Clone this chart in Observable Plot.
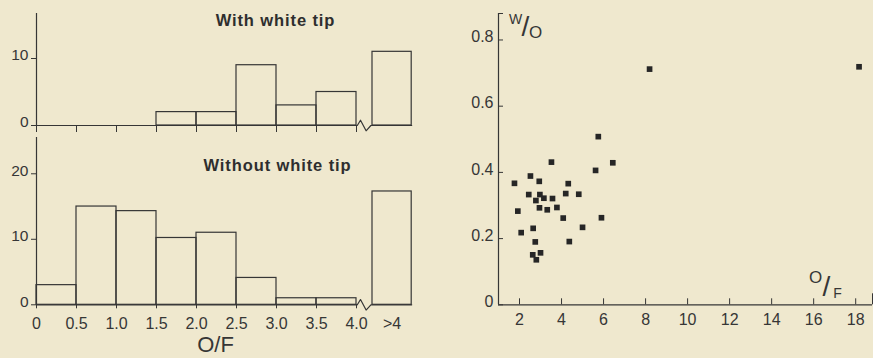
<!DOCTYPE html>
<html><head><meta charset="utf-8">
<script src="https://cdn.jsdelivr.net/npm/d3@7"></script>
<script src="https://cdn.jsdelivr.net/npm/@observablehq/plot@0.6"></script>
<style>
html,body{margin:0;padding:0;background:#efe8ce;}
#chart{position:relative;width:873px;height:358px;overflow:hidden;background:#efe8ce;}
#chart svg{position:absolute;left:0;top:0;}
</style></head><body><div id="chart"></div>
<script>
// ---- data ----
const binLow  = [0, 0.5, 1.0, 1.5, 2.0, 2.5, 3.0, 3.5, 4.0];
const binHigh = [0.5, 1.0, 1.5, 2.0, 2.5, 3.0, 3.5, 4.0, Infinity];
const withTip    = [0, 0, 0, 2, 2, 9, 3, 5, 11];
const withoutTip = [3, 15, 14.3, 10.2, 11, 4.1, 1, 1, 17.3];
const histTicks = [0, 0.5, 1.0, 1.5, 2.0, 2.5, 3.0, 3.5, 4.0];
const histTickLabels = ["0", "0.5", "1.0", "1.5", "2.0", "2.5", "3.0", "3.5", "4.0"];
const overflowLabel = ">4";
const withTipYTicks = [0, 10];
const withoutTipYTicks = [0, 10, 20];
const titleWith = "With white tip";
const titleWithout = "Without white tip";
const histXLabel = "O/F";

const scatterOF = [8.19, 18.16, 5.75, 3.52, 6.44, 5.62, 1.76, 2.52, 2.94, 4.32, 2.44, 2.97, 4.20, 4.82, 2.78, 3.16,
                   3.57, 2.95, 3.32, 3.78, 1.92, 4.08, 5.90, 5.00, 2.65, 2.08, 2.75, 4.37, 2.63, 3.00, 2.80];
const scatterWO = [0.712, 0.719, 0.508, 0.431, 0.429, 0.406, 0.367, 0.389, 0.373, 0.366, 0.333, 0.333, 0.336, 0.334, 0.315, 0.322,
                   0.321, 0.293, 0.287, 0.294, 0.283, 0.262, 0.263, 0.234, 0.231, 0.218, 0.190, 0.191, 0.151, 0.157, 0.136];
const scatterXTicks = [2, 4, 6, 8, 10, 12, 14, 16, 18];
const scatterYTicks = [0, 0.2, 0.4, 0.6, 0.8];
const scatterYTickLabels = ["0", "0.2", "0.4", "0.6", "0.8"];

// ---- layout / style ----
const W = 873, H = 358;
const INK = "#363636";
const FONT = "'Liberation Sans', Arial, Helvetica, sans-serif";
const OVER_X1 = 4.2, OVER_X2 = 4.69;   // display slot of the ">4" bin after the axis break
const xPos1 = binLow.map(v => v >= 4 ? OVER_X1 : v);
const xPos2 = binHigh.map(v => v === Infinity ? OVER_X2 : v);
const baseStyle = {background: "transparent", color: INK, fontFamily: FONT, overflow: "visible", maxWidth: "none"};

function breakLine(amp) {
  return [[0, 0], [4.01, 0], [4.05, amp], [4.12, -amp], [4.18, 0], [OVER_X2, 0]];
}

function histogram({values, yTicks, yMax, top, bottom, title, titleDx, titleDy, labels}) {
  const idx = values.map((v, i) => i).filter(i => values[i] > 0);
  const unit = (bottom - top) / yMax;
  const marks = [
    Plot.ruleX([0], {stroke: INK, strokeWidth: 1.2}),
    Plot.line(breakLine(0.8 * 6.6 / unit), {x: d => d[0], y: d => d[1], stroke: INK, strokeWidth: 1.2, curve: "linear"}),
    Plot.rectY(idx, {x1: i => xPos1[i], x2: i => xPos2[i], y1: 0, y2: i => values[i], fill: "none", stroke: INK, strokeWidth: 1.2}),
    Plot.axisY({ticks: yTicks, tickSize: 5, fill: "none", strokeWidth: 1, label: null}),
    Plot.axisY({ticks: yTicks, tickSize: 0, tickPadding: 8, dy: -3, fontSize: 15.5, label: null}),
    Plot.text([title], {frameAnchor: "top-left", dx: titleDx, dy: titleDy, textAnchor: "middle", lineAnchor: "middle",
      fontSize: 16.5, fontWeight: "bold", fill: "#2e2e2e"})
  ];
  if (labels) {
    marks.push(
      Plot.axisX({ticks: histTicks, tickSize: 4, fill: "none", strokeWidth: 1, label: null}),
      Plot.axisX({ticks: histTicks, tickSize: 0, tickPadding: 13, fontSize: 16, label: null,
        tickFormat: d => histTickLabels[histTicks.indexOf(d)]}),
      Plot.text([overflowLabel], {x: () => (OVER_X1 + OVER_X2) / 2, frameAnchor: "bottom", lineAnchor: "top", dy: 13, fontSize: 16}),
      Plot.text([histXLabel], {frameAnchor: "bottom-left", dx: 179, dy: 40, textAnchor: "middle", lineAnchor: "middle", fontSize: 22})
    );
  } else {
    marks.push(Plot.axisX({ticks: histTicks, tickSize: 7, fill: "none", strokeWidth: 1, label: null}));
  }
  return Plot.plot({
    width: W, height: H,
    marginLeft: 36, marginRight: W - 436, marginTop: top, marginBottom: H - bottom,
    x: {domain: [0, 5], label: null},
    y: {domain: [0, yMax], label: null},
    style: baseStyle,
    marks
  });
}

const topHist = histogram({values: withTip, yTicks: withTipYTicks, yMax: 16.72, top: 13, bottom: 125,
  title: titleWith, titleDx: 239, titleDy: 7, labels: false});
const botHist = histogram({values: withoutTip, yTicks: withoutTipYTicks, yMax: 25.54, top: 137, bottom: 304.3,
  title: titleWithout, titleDx: 241, titleDy: 28, labels: true});

const pts = scatterOF.map((x, i) => ({x, y: scatterWO[i]}));
const scatter = Plot.plot({
  width: W, height: H,
  marginLeft: 498, marginRight: 1, marginTop: 13, marginBottom: H - 304.3,
  x: {domain: [1, 18.8], label: null},
  y: {domain: [0, 0.88], label: null},
  style: baseStyle,
  marks: [
    Plot.ruleX([1], {stroke: INK, strokeWidth: 1.2}),
    Plot.ruleY([0], {stroke: INK, strokeWidth: 1.2}),
    Plot.axisY({ticks: [...scatterYTicks, 0.88], tickSize: -5, fill: "none", strokeWidth: 1, label: null}),
    Plot.axisY({ticks: scatterYTicks, tickSize: 0, tickPadding: 5, dy: -3, fontSize: 16, label: null,
      tickFormat: d => scatterYTickLabels[scatterYTicks.indexOf(d)]}),
    Plot.axisX({ticks: scatterXTicks, tickSize: -6, fill: "none", strokeWidth: 1, label: null}),
    Plot.axisX({ticks: [18.8], tickSize: -11, fill: "none", strokeWidth: 1, label: null}),
    Plot.axisX({ticks: scatterXTicks, tickSize: 0, tickPadding: 9, fontSize: 16, label: null}),
    Plot.dot(pts, {x: "x", y: "y", symbol: "square", r: 3.2, fill: "#262626", stroke: "none"}),
    // W/O axis label
    Plot.text(["W"], {frameAnchor: "top-left", dx: 17, dy: 6, textAnchor: "middle", lineAnchor: "middle", fontSize: 14}),
    Plot.text(["/"], {frameAnchor: "top-left", dx: 27, dy: 14, textAnchor: "middle", lineAnchor: "middle", fontSize: 28}),
    Plot.text(["O"], {frameAnchor: "top-left", dx: 37, dy: 19, textAnchor: "middle", lineAnchor: "middle", fontSize: 17}),
    // O/F axis label
    Plot.text(["O"], {frameAnchor: "bottom-right", dx: -57, dy: -27, textAnchor: "middle", lineAnchor: "middle", fontSize: 17}),
    Plot.text(["/"], {frameAnchor: "bottom-right", dx: -46, dy: -18, textAnchor: "middle", lineAnchor: "middle", fontSize: 28}),
    Plot.text(["F"], {frameAnchor: "bottom-right", dx: -35, dy: -11, textAnchor: "middle", lineAnchor: "middle", fontSize: 14})
  ]
});

const chart = document.getElementById("chart");
[topHist, botHist, scatter].forEach(s => chart.appendChild(s));
d3.select(chart).selectAll("text")
  .filter(function() { return this.textContent.includes("white tip"); })
  .style("letter-spacing", "0.9px");
</script></body></html>
